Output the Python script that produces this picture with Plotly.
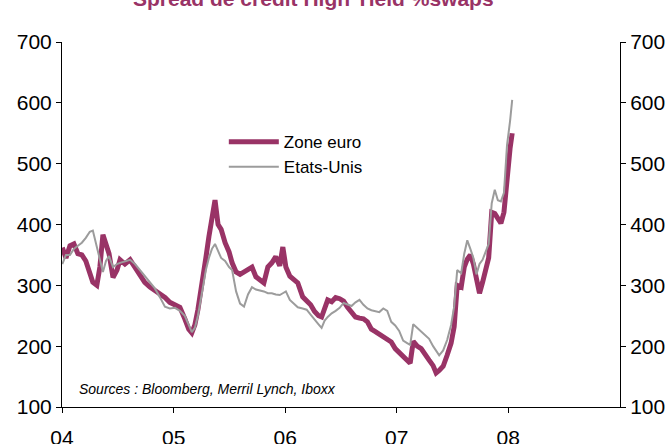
import plotly.graph_objects as go

# Spread de crédit High Yield contre swaps (pb), zone euro vs Etats-Unis
dates = [
    "2004-01-02", "2004-01-14", "2004-01-27", "2004-02-09", "2004-02-22", "2004-03-06",
    "2004-03-19", "2004-04-01", "2004-04-11", "2004-04-24", "2004-05-04", "2004-05-14",
    "2004-05-24", "2004-06-03", "2004-06-16", "2004-06-29", "2004-07-09", "2004-07-25",
    "2004-08-11", "2004-08-27", "2004-09-12", "2004-09-28", "2004-10-15", "2004-10-31",
    "2004-11-16", "2004-12-03", "2004-12-19", "2005-01-05", "2005-01-21", "2005-02-06",
    "2005-02-19", "2005-03-01", "2005-03-11", "2005-03-21", "2005-04-03", "2005-04-16",
    "2005-04-26", "2005-05-06", "2005-05-16", "2005-05-26", "2005-06-05", "2005-06-18",
    "2005-07-01", "2005-07-11", "2005-07-24", "2005-08-06", "2005-08-19", "2005-09-01",
    "2005-09-14", "2005-09-27", "2005-10-10", "2005-10-23", "2005-11-05", "2005-11-18",
    "2005-12-01", "2005-12-14", "2005-12-24", "2006-01-03", "2006-01-16", "2006-01-29",
    "2006-02-11", "2006-02-27", "2006-03-12", "2006-03-25", "2006-04-07", "2006-04-20",
    "2006-04-30", "2006-05-10", "2006-05-20", "2006-06-02", "2006-06-15", "2006-06-28",
    "2006-07-11", "2006-07-24", "2006-08-06", "2006-08-19", "2006-09-01", "2006-09-14",
    "2006-09-27", "2006-10-10", "2006-10-23", "2006-11-05", "2006-11-18", "2006-12-01",
    "2006-12-14", "2006-12-27", "2007-01-09", "2007-01-22", "2007-02-04", "2007-02-14",
    "2007-02-24", "2007-03-09", "2007-03-22", "2007-04-04", "2007-04-17", "2007-04-30",
    "2007-05-10", "2007-05-20", "2007-06-02", "2007-06-15", "2007-06-28", "2007-07-08",
    "2007-07-18", "2007-07-31", "2007-08-10", "2007-08-20", "2007-08-30", "2007-09-09",
    "2007-09-19", "2007-09-29", "2007-10-09", "2007-10-19", "2007-10-29", "2007-11-08",
    "2007-11-18", "2007-11-28", "2007-12-08", "2007-12-18", "2007-12-28", "2008-01-07",
    "2008-01-14",
]

zone_euro = [
    362, 345, 365, 368, 352, 350, 340, 318, 305, 300, 330, 383,
    365, 352, 313, 325, 342, 335, 342, 330, 317, 305, 297, 292,
    287, 280, 272, 268, 264, 245, 228, 222, 235, 260, 297, 345,
    380, 415, 440, 400, 392, 370, 355, 337, 322, 318, 322, 326,
    330, 314, 310, 304, 330, 337, 347, 332, 363, 330, 315, 309,
    304, 281, 275, 268, 257, 250, 248, 262, 276, 273, 280, 278,
    274, 264, 255, 248, 246, 245, 240, 228, 224, 220, 215, 212,
    207, 196, 190, 183, 176, 172, 208, 200, 196, 185, 177, 168,
    156, 160, 167, 185, 205, 232, 300, 297, 330, 343, 350, 335,
    305, 287, 305, 325, 345, 420, 418, 410, 402, 420, 480, 525,
    550,
]

etats_unis = [
    335, 350, 350, 360, 365, 370, 378, 388, 390, 365, 345, 322,
    340, 348, 330, 335, 337, 340, 342, 335, 325, 315, 305, 295,
    281, 265, 262, 263, 258, 250, 235, 223, 230, 250, 287, 325,
    345, 360, 368, 355, 345, 340, 330, 325, 290, 270, 265, 285,
    297, 293, 292, 290, 287, 287, 285, 284, 287, 290, 276, 270,
    264, 262, 260, 252, 243, 236, 230, 242, 248, 254, 258, 263,
    271, 268, 266, 272, 276, 268, 262, 259, 258, 256, 262, 258,
    240, 234, 225, 209, 205, 202, 236, 230, 225, 218, 212, 200,
    192, 185, 193, 210, 235, 265, 325, 320, 352, 374, 360, 345,
    318, 335, 342, 355, 368, 435, 457, 440, 438, 452, 530, 570,
    605,
]

year_ticks = ["2004-01-01", "2005-01-01", "2006-01-01", "2007-01-01", "2008-01-01"]
year_labels = ["04", "05", "06", "07", "08"]
y_ticks = [100, 200, 300, 400, 500, 600, 700]

FONT = "Arial, 'Liberation Sans', sans-serif"
MAROON = "#993366"
GREY = "#9c9c9c"

fig = go.Figure()
fig.add_trace(go.Scatter(
    x=dates, y=zone_euro, name="Zone euro", mode="lines",
    line=dict(color=MAROON, width=5), yaxis="y",
))
fig.add_trace(go.Scatter(
    x=dates, y=etats_unis, name="Etats-Unis", mode="lines",
    line=dict(color=GREY, width=2), yaxis="y2",
))

axis_common = dict(
    range=[100, 700], tickvals=y_ticks, showgrid=False, zeroline=False,
    showline=True, linecolor="black", linewidth=1,
    ticks="outside", ticklen=5, tickcolor="black", automargin=False,
    tickfont=dict(family=FONT, size=21, color="black"),
)

fig.update_layout(
    width=669, height=444,
    margin=dict(l=62, r=49, t=42, b=37),
    paper_bgcolor="white", plot_bgcolor="white",
    font=dict(family=FONT, color="black"),
    xaxis=dict(
        type="date", range=["2004-01-01", "2009-01-01"],
        tickvals=year_ticks, ticktext=year_labels,
        showgrid=False, zeroline=False, showline=True,
        linecolor="black", linewidth=1,
        ticks="outside", ticklen=5, tickcolor="black",
        ticklabelstandoff=7, automargin=False,
        tickfont=dict(family=FONT, size=21, color="black"),
    ),
    yaxis=dict(**axis_common, side="left"),
    yaxis2=dict(**axis_common, side="right", overlaying="y"),
    legend=dict(
        x=0.29, y=0.775, xanchor="left", yanchor="top",
        bgcolor="rgba(0,0,0,0)", font=dict(family=FONT, size=17, color="black"),
        itemwidth=50, tracegroupgap=0,
    ),
    showlegend=True,
    annotations=[
        dict(
            text="<b>Spread de crédit High Yield %swaps</b>",
            x=0.45, xref="paper", y=1, yref="paper", yshift=30,
            xanchor="center", yanchor="bottom", showarrow=False,
            font=dict(family=FONT, size=21, color=MAROON),
        ),
        dict(
            text="<i>Sources : Bloomberg, Merril Lynch, Iboxx</i>",
            x=0.027, xref="paper", y=0.05, yref="paper",
            xanchor="left", yanchor="middle", showarrow=False,
            font=dict(family=FONT, size=14, color="black"),
        ),
    ],
)

fig.write_html("out.html")
